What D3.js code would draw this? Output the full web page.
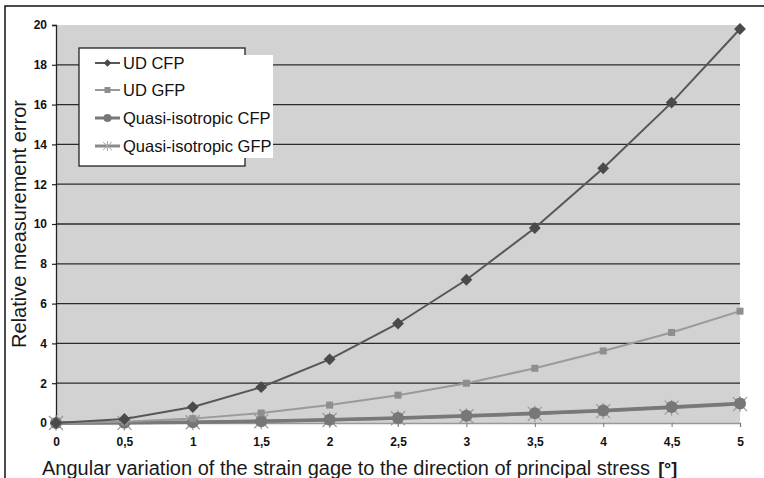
<!DOCTYPE html>
<html>
<head>
<meta charset="utf-8">
<script src="https://cdn.jsdelivr.net/npm/d3@7"></script>
<style>
  body { margin: 0; background: #fff; }
  text { font-family: "Liberation Sans", Arial, sans-serif; }
</style>
</head>
<body>
<div id="container"></div>
<script>
const angles = [0, 0.5, 1, 1.5, 2, 2.5, 3, 3.5, 4, 4.5, 5];
const udCfp = [0, 0.2, 0.8, 1.8, 3.2, 5.0, 7.2, 9.8, 12.8, 16.1, 19.8];
const udGfp = [0, 0.06, 0.22, 0.5, 0.9, 1.4, 2.0, 2.75, 3.62, 4.55, 5.62];
const quasiCfp = [0, 0.01, 0.04, 0.09, 0.16, 0.25, 0.36, 0.49, 0.63, 0.8, 0.98];
const quasiGfp = [0, 0.01, 0.04, 0.09, 0.15, 0.24, 0.34, 0.46, 0.6, 0.77, 0.95];
const yTicks = [0, 2, 4, 6, 8, 10, 12, 14, 16, 18, 20];
const seriesNames = ["UD CFP", "UD GFP", "Quasi-isotropic CFP", "Quasi-isotropic GFP"];

const width = 764, height = 478;
const margin = { top: 25, right: 24, bottom: 55, left: 56 };

const svg = d3.select("#container")
  .append("svg")
  .attr("width", width)
  .attr("height", height);

// outer frame (cut off right and bottom like the original scan)
svg.append("path")
  .attr("d", `M5,${height + 5}V6H${width + 5}`)
  .attr("fill", "none")
  .attr("stroke", "#111")
  .attr("stroke-width", 1.5);

const x = d3.scaleLinear().domain([0, 5]).range([margin.left, width - margin.right]);
const y = d3.scaleLinear().domain([0, 20]).range([height - margin.bottom, margin.top]);

// plot area
svg.append("rect")
  .attr("x", x(0))
  .attr("y", y(20))
  .attr("width", x(5) - x(0))
  .attr("height", y(0) - y(20))
  .attr("fill", "#d2d2d3");

// gridlines
svg.append("g")
  .selectAll("line")
  .data(yTicks.filter(d => d > 0 && d < 20))
  .enter()
  .append("line")
  .attr("x1", x(0))
  .attr("x2", x(5))
  .attr("y1", d => y(d))
  .attr("y2", d => y(d))
  .attr("stroke", "#2a2a2a")
  .attr("stroke-width", 1.3);

// axes
svg.append("g")
  .attr("transform", `translate(${x(0)},0)`)
  .call(d3.axisLeft(y).tickValues(yTicks).tickSize(4).tickPadding(5).tickFormat(d3.format("d")))
  .call(g => g.select(".domain").attr("stroke", "#222").attr("stroke-width", 1.3))
  .call(g => g.selectAll(".tick line").attr("stroke", "#222").attr("stroke-width", 1.2))
  .call(g => g.selectAll(".tick text")
    .attr("fill", "#111")
    .style("font-size", "12px")
    .style("font-weight", "bold")
    .style("font-family", "'Liberation Sans', Arial, sans-serif"));

svg.append("g")
  .attr("transform", `translate(0,${y(0)})`)
  .call(d3.axisBottom(x).tickValues(angles).tickSize(4).tickPadding(10)
    .tickFormat(d => String(d).replace(".", ",")))
  .call(g => g.select(".domain").attr("stroke", "#999").attr("stroke-width", 1.3))
  .call(g => g.selectAll(".tick line").attr("stroke", "#777"))
  .call(g => g.selectAll(".tick text")
    .attr("fill", "#111")
    .style("font-size", "12px")
    .style("font-weight", "bold")
    .style("font-family", "'Liberation Sans', Arial, sans-serif"));

const series = [
  { name: seriesNames[0], values: udCfp, color: "#575757", marker: "#4a4a4a", width: 2, shape: "diamond" },
  { name: seriesNames[1], values: udGfp, color: "#9a9a9a", marker: "#8e8e8e", width: 2, shape: "square" },
  { name: seriesNames[2], values: quasiCfp, color: "#787878", marker: "#777", width: 3.5, shape: "circle" },
  { name: seriesNames[3], values: quasiGfp, color: "#8a8a8a", marker: "#999", width: 3, shape: "star" }
];

const line = d3.line()
  .x((d, i) => x(angles[i]))
  .y(d => y(d));

function drawMarker(g, shape, color, cx, cy) {
  if (shape === "diamond") {
    g.append("path")
      .attr("d", d3.symbol(d3.symbolSquare, 70)())
      .attr("transform", `translate(${cx},${cy}) rotate(45)`)
      .attr("fill", color);
  } else if (shape === "square") {
    g.append("rect")
      .attr("x", cx - 3.5).attr("y", cy - 3.5)
      .attr("width", 7).attr("height", 7)
      .attr("fill", color);
  } else if (shape === "circle") {
    g.append("circle")
      .attr("cx", cx).attr("cy", cy).attr("r", 6)
      .attr("fill", color);
  } else {
    g.append("path")
      .attr("d", `M${cx - 7},${cy - 7}L${cx + 7},${cy + 7}M${cx - 7},${cy + 7}L${cx + 7},${cy - 7}M${cx},${cy - 8}V${cy + 8}`)
      .attr("stroke", color)
      .attr("stroke-width", 1.2)
      .attr("fill", "none");
  }
}

// draw back to front so UD CFP sits on top
series.slice().reverse().forEach(s => {
  const g = svg.append("g");
  g.append("path")
    .datum(s.values)
    .attr("fill", "none")
    .attr("stroke", s.color)
    .attr("stroke-width", s.width)
    .attr("d", line);
  s.values.forEach((v, i) => drawMarker(g, s.shape, s.marker, x(angles[i]), y(v)));
});

// legend
const legend = svg.append("g");
legend.append("rect")
  .attr("x", 79).attr("y", 48)
  .attr("width", 166).attr("height", 118)
  .attr("fill", "#fff")
  .attr("stroke", "#222")
  .attr("stroke-width", 1.3);
legend.append("rect")
  .attr("x", 240).attr("y", 55)
  .attr("width", 33).attr("height", 103)
  .attr("fill", "#fff");

const legendY = [63, 90, 118, 146];
series.forEach((s, i) => {
  const ly = legendY[i];
  const lg = legend.append("g");
  lg.append("line")
    .attr("x1", 95).attr("x2", 120)
    .attr("y1", ly).attr("y2", ly)
    .attr("stroke", s.color)
    .attr("stroke-width", i >= 2 ? 3 : 2);
  if (s.shape === "diamond") {
    lg.append("path").attr("d", d3.symbol(d3.symbolSquare, 30)())
      .attr("transform", `translate(107.5,${ly}) rotate(45)`).attr("fill", s.marker);
  } else if (s.shape === "square") {
    lg.append("rect").attr("x", 104.5).attr("y", ly - 3).attr("width", 6).attr("height", 6).attr("fill", s.marker);
  } else if (s.shape === "circle") {
    lg.append("circle").attr("cx", 107.5).attr("cy", ly).attr("r", 4).attr("fill", s.marker);
  } else {
    lg.append("path")
      .attr("d", `M103,${ly - 4}L112,${ly + 4}M103,${ly + 4}L112,${ly - 4}M107.5,${ly - 5}V${ly + 5}`)
      .attr("stroke", "#aaa").attr("stroke-width", 1).attr("fill", "none");
  }
  lg.append("text")
    .attr("x", 123)
    .attr("y", ly)
    .attr("dy", "0.36em")
    .attr("fill", "#111")
    .style("font-size", "16.5px")
    .text(s.name);
});

// axis titles
svg.append("text")
  .attr("transform", `translate(26,${(y(0) + y(20)) / 2}) rotate(-90)`)
  .attr("text-anchor", "middle")
  .attr("fill", "#1a1a1a")
  .style("font-size", "20px")
  .text("Relative measurement error");

const xTitle = svg.append("text")
  .attr("x", 42)
  .attr("y", 475)
  .attr("fill", "#1a1a1a")
  .style("font-size", "20px");
xTitle.append("tspan").text("Angular variation of the strain gage to the direction of principal stress");
xTitle.append("tspan").attr("dx", 8).style("font-weight", "bold").style("font-size", "18px").text("[°]");
</script>
</body>
</html>
